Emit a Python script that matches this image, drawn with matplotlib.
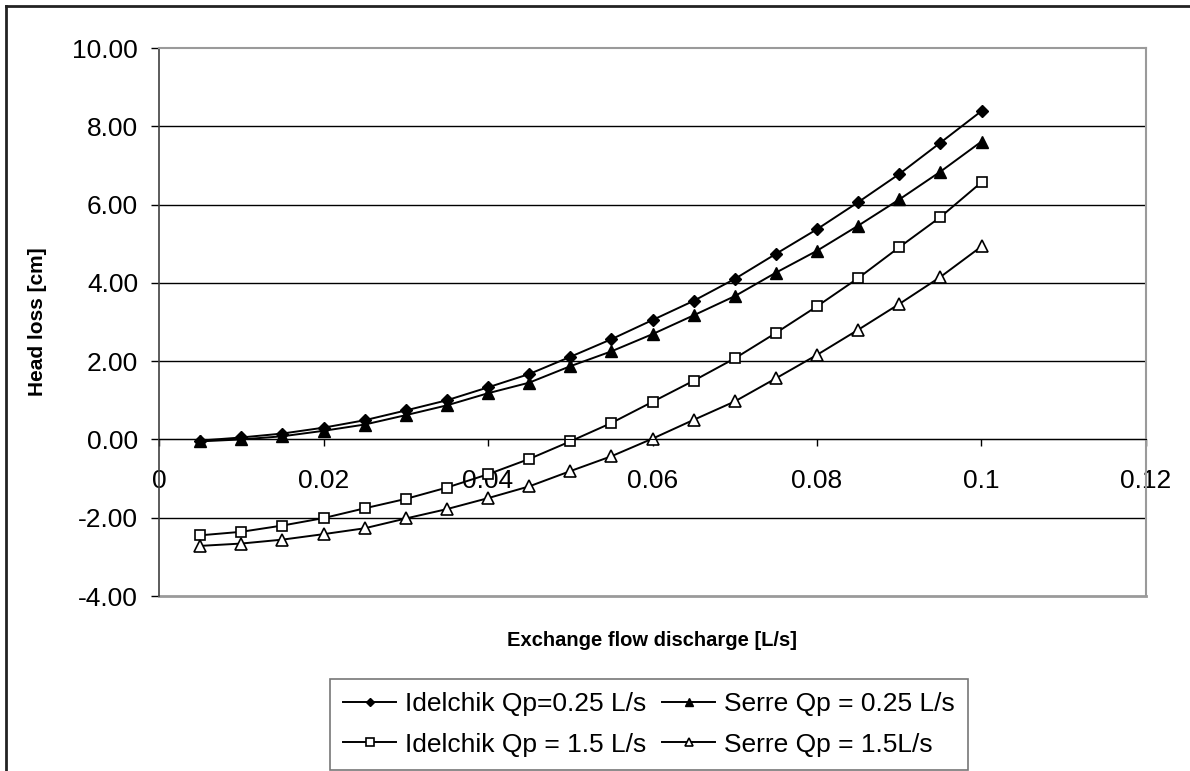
import matplotlib
matplotlib.use("Agg")
import matplotlib.pyplot as plt
from matplotlib.lines import Line2D
from matplotlib.ticker import FuncFormatter, MultipleLocator

plt.rcParams["font.family"] = ["Liberation Sans", "DejaVu Sans"]

# ---------------------------------------------------------------------------
# Data
# ---------------------------------------------------------------------------
discharge = [0.005, 0.010, 0.015, 0.020, 0.025, 0.030, 0.035, 0.040, 0.045, 0.050,
             0.055, 0.060, 0.065, 0.070, 0.075, 0.080, 0.085, 0.090, 0.095, 0.100]

idelchik_025 = [-0.03, 0.05, 0.15, 0.30, 0.49, 0.74, 1.00, 1.33, 1.67, 2.11,
                2.56, 3.05, 3.54, 4.10, 4.74, 5.37, 6.06, 6.78, 7.58, 8.39]
serre_025 = [-0.05, 0.00, 0.08, 0.22, 0.38, 0.62, 0.87, 1.18, 1.45, 1.87,
             2.25, 2.69, 3.17, 3.66, 4.26, 4.82, 5.46, 6.13, 6.84, 7.61]
idelchik_15 = [-2.45, -2.36, -2.20, -2.01, -1.76, -1.52, -1.23, -0.89, -0.50, -0.05,
               0.42, 0.96, 1.50, 2.07, 2.72, 3.40, 4.12, 4.91, 5.68, 6.57]
serre_15 = [-2.72, -2.66, -2.56, -2.42, -2.27, -2.02, -1.78, -1.50, -1.20, -0.81,
            -0.43, 0.02, 0.50, 0.97, 1.56, 2.16, 2.80, 3.46, 4.15, 4.93]

labels = ["Idelchik Qp=0.25 L/s", "Idelchik Qp = 1.5 L/s",
          "Serre Qp = 0.25 L/s", "Serre Qp = 1.5L/s"]

# ---------------------------------------------------------------------------
W, H = 1190, 771
fig = plt.figure(figsize=(W / 100, H / 100), dpi=100)
ax = fig.add_axes([159 / W, 1 - 596 / H, (1146 - 159) / W, (596 - 48) / H])

lw = 1.4
h1, = ax.plot(discharge, idelchik_025, color="black", lw=lw, marker="D", ms=6,
              mfc="black", mec="black", label=labels[0])
h3, = ax.plot(discharge, serre_025, color="black", lw=lw, marker="^", ms=8.5,
              mfc="black", mec="black", label=labels[2])
h2, = ax.plot(discharge, idelchik_15, color="black", lw=lw, marker="s", ms=7,
              mfc="white", mec="black", mew=1.2, label=labels[1])
h4, = ax.plot(discharge, serre_15, color="black", lw=lw, marker="^", ms=8.5,
              mfc="white", mec="black", mew=1.2, label=labels[3])

ax.set_xlim(0, 0.12)
ax.set_ylim(-4, 10)
ax.xaxis.set_major_locator(MultipleLocator(0.02))
ax.yaxis.set_major_locator(MultipleLocator(2))
ax.xaxis.set_major_formatter(FuncFormatter(lambda v, p: f"{v:g}"))
ax.yaxis.set_major_formatter(FuncFormatter(lambda v, p: f"{v:.2f}"))

# horizontal gridlines (not at the borders)
ax.yaxis.grid(True, color="black", lw=1)
for gl, t in zip(ax.get_ygridlines(), ax.get_yticks()):
    if t <= -4 or t >= 10:
        gl.set_visible(False)
ax.set_axisbelow(True)

# spines: x axis crosses at y = 0, plot border grey
ax.spines["bottom"].set_position(("data", 0))
ax.spines["bottom"].set_color("black")
ax.spines["left"].set_color("#404040")
ax.spines["left"].set_linewidth(1.2)
for s in ["top", "right"]:
    ax.spines[s].set_color("#9a9a9a")
    ax.spines[s].set_linewidth(1.5)
ax.plot([0, 1], [0, 0], transform=ax.transAxes, color="#9a9a9a", lw=2, clip_on=False)

ax.tick_params(axis="x", direction="out", length=5, width=1, pad=16, labelsize=19)
ax.tick_params(axis="y", direction="out", length=6, width=1, pad=9, labelsize=19)

ax.set_ylabel("Head loss [cm]", fontsize=15, fontweight="bold")
ax.yaxis.set_label_coords((47 - 159) / 987, 0.5)
fig.text(652 / W, 1 - 640 / H, "Exchange flow discharge [L/s]",
         fontsize=14.5, fontweight="bold", ha="center", va="center")

leg = fig.legend([h1, h2, h3, h4], labels, ncol=2, loc="upper left",
                 bbox_to_anchor=(330 / W, 1 - 679 / H), borderaxespad=0,
                 fontsize=19, frameon=True, fancybox=False, edgecolor="#555555",
                 handlelength=2.0, handletextpad=0.35, columnspacing=0.6,
                 labelspacing=0.62, borderpad=0.5, markerscale=0.75)
leg.get_frame().set_linewidth(1.2)

# outer chart frame (cropped at right and bottom)
fig.add_artist(Line2D([6 / W, 1], [1 - 6 / H, 1 - 6 / H], color="#222222", lw=2))
fig.add_artist(Line2D([6 / W, 6 / W], [0, 1 - 6 / H], color="#222222", lw=2))

fig.savefig("out.png", dpi=100)
